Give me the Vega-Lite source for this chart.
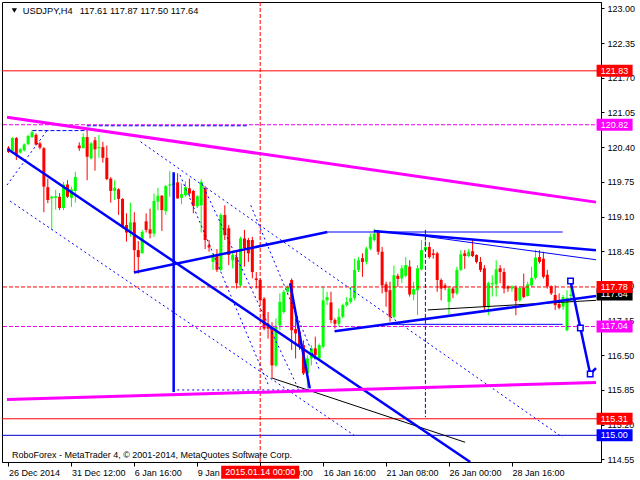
{
"$schema":"https://vega.github.io/schema/vega-lite/v6.json",
"width":599,"height":460,
"autosize":{"type":"none"},
"padding":{"left":2,"top":2,"right":39,"bottom":18},
"background":"white",
"config":{"view":{"stroke":"black","strokeWidth":1},"font":"Liberation Sans","axis":{"labelFont":"Liberation Sans","labelFontSize":9,"labelColor":"black","tickColor":"black","domainColor":"black","grid":false,"labelOverlap":false}},
"resolve":{"axis":{"x":"independent","y":"independent"}},
"datasets":{
"candles":[
{"i":0,"o":120.39,"h":120.42,"l":120.29,"c":120.31},
{"i":1,"o":120.33,"h":120.59,"l":120.33,"c":120.57},
{"i":2,"o":120.57,"h":120.59,"l":120.16,"c":120.26},
{"i":3,"o":120.30,"h":120.38,"l":120.28,"c":120.36},
{"i":4,"o":120.34,"h":120.47,"l":120.32,"c":120.45},
{"i":5,"o":120.46,"h":120.63,"l":120.44,"c":120.61},
{"i":6,"o":120.59,"h":120.72,"l":120.57,"c":120.68},
{"i":7,"o":120.63,"h":120.66,"l":120.43,"c":120.45},
{"i":8,"o":120.47,"h":120.50,"l":120.36,"c":120.39},
{"i":9,"o":120.38,"h":120.40,"l":119.18,"c":119.66},
{"i":10,"o":119.65,"h":119.81,"l":119.35,"c":119.41},
{"i":11,"o":119.44,"h":119.49,"l":118.85,"c":119.47},
{"i":12,"o":119.45,"h":119.60,"l":119.23,"c":119.48},
{"i":13,"o":119.47,"h":119.54,"l":119.22,"c":119.26},
{"i":14,"o":119.26,"h":119.75,"l":119.22,"c":119.70},
{"i":15,"o":119.70,"h":119.78,"l":119.45,"c":119.47},
{"i":16,"o":119.45,"h":119.66,"l":119.28,"c":119.61},
{"i":17,"o":119.58,"h":119.94,"l":119.36,"c":119.84},
{"i":18,"o":120.43,"h":120.49,"l":120.33,"c":120.38},
{"i":19,"o":120.38,"h":120.66,"l":120.38,"c":120.59},
{"i":20,"o":120.59,"h":120.72,"l":119.78,"c":120.22},
{"i":21,"o":120.19,"h":120.50,"l":120.17,"c":120.47},
{"i":22,"o":120.53,"h":120.59,"l":119.96,"c":120.36},
{"i":23,"o":120.38,"h":120.63,"l":120.20,"c":120.40},
{"i":24,"o":120.40,"h":120.50,"l":120.11,"c":120.20},
{"i":25,"o":120.20,"h":120.43,"l":119.78,"c":119.80},
{"i":26,"o":119.81,"h":119.84,"l":119.36,"c":119.58},
{"i":27,"o":119.58,"h":119.78,"l":119.41,"c":119.64},
{"i":28,"o":119.61,"h":119.63,"l":119.13,"c":119.43},
{"i":29,"o":119.43,"h":119.44,"l":118.88,"c":118.91},
{"i":30,"o":118.94,"h":119.16,"l":118.63,"c":118.80},
{"i":31,"o":118.80,"h":119.36,"l":118.72,"c":118.99},
{"i":32,"o":118.99,"h":119.18,"l":118.06,"c":118.47},
{"i":33,"o":118.47,"h":118.64,"l":118.03,"c":118.34},
{"i":34,"o":118.41,"h":118.85,"l":118.41,"c":118.81},
{"i":35,"o":119.01,"h":119.16,"l":118.80,"c":118.85},
{"i":36,"o":118.86,"h":119.25,"l":118.69,"c":118.78},
{"i":37,"o":118.78,"h":119.53,"l":118.72,"c":119.39},
{"i":38,"o":119.38,"h":119.64,"l":119.22,"c":119.49},
{"i":39,"o":119.49,"h":119.50,"l":118.83,"c":119.22},
{"i":40,"o":119.20,"h":119.69,"l":119.13,"c":119.67},
{"i":41,"o":119.68,"h":119.95,"l":119.47,"c":119.70},
{"i":42,"o":119.69,"h":119.75,"l":119.68,"c":119.73},
{"i":43,"o":119.74,"h":119.91,"l":119.43,"c":119.44},
{"i":44,"o":119.45,"h":119.72,"l":119.33,"c":119.52},
{"i":45,"o":119.50,"h":119.76,"l":119.47,"c":119.65},
{"i":46,"o":119.63,"h":119.81,"l":119.47,"c":119.53},
{"i":47,"o":119.58,"h":119.60,"l":119.16,"c":119.30},
{"i":48,"o":119.29,"h":119.50,"l":119.26,"c":119.48},
{"i":49,"o":119.31,"h":119.80,"l":118.80,"c":119.75},
{"i":50,"o":119.63,"h":119.67,"l":118.49,"c":118.66},
{"i":51,"o":118.56,"h":118.66,"l":118.44,"c":118.52},
{"i":52,"o":118.25,"h":118.41,"l":118.10,"c":118.38},
{"i":53,"o":118.38,"h":118.49,"l":118.06,"c":118.10},
{"i":54,"o":118.10,"h":119.16,"l":118.08,"c":119.13},
{"i":55,"o":119.13,"h":119.31,"l":118.66,"c":118.75},
{"i":56,"o":118.88,"h":118.94,"l":118.19,"c":118.38},
{"i":57,"o":118.28,"h":118.44,"l":118.13,"c":118.38},
{"i":58,"o":118.34,"h":118.44,"l":117.75,"c":117.85},
{"i":59,"o":117.81,"h":118.72,"l":117.78,"c":118.69},
{"i":60,"o":118.69,"h":118.85,"l":118.16,"c":118.51},
{"i":61,"o":118.66,"h":118.70,"l":118.25,"c":118.41},
{"i":62,"o":118.66,"h":118.72,"l":117.94,"c":118.06},
{"i":63,"o":117.94,"h":118.06,"l":117.75,"c":117.91},
{"i":64,"o":117.91,"h":117.94,"l":117.50,"c":117.53},
{"i":65,"o":117.56,"h":117.59,"l":116.97,"c":117.00},
{"i":66,"o":117.09,"h":117.31,"l":116.81,"c":117.00},
{"i":67,"o":117.01,"h":117.12,"l":116.06,"c":116.31},
{"i":68,"o":116.31,"h":117.19,"l":116.28,"c":117.03},
{"i":69,"o":117.06,"h":117.66,"l":116.97,"c":117.50},
{"i":70,"o":117.31,"h":117.72,"l":117.28,"c":117.69},
{"i":71,"o":117.69,"h":117.81,"l":117.66,"c":117.78},
{"i":72,"o":117.91,"h":117.94,"l":116.60,"c":116.97},
{"i":73,"o":116.99,"h":117.19,"l":116.44,"c":116.91},
{"i":74,"o":116.94,"h":117.00,"l":116.60,"c":116.69},
{"i":75,"o":116.69,"h":116.78,"l":116.13,"c":116.16},
{"i":76,"o":116.16,"h":116.50,"l":115.88,"c":116.44},
{"i":77,"o":116.44,"h":116.69,"l":116.31,"c":116.63},
{"i":78,"o":116.63,"h":116.85,"l":116.44,"c":116.50},
{"i":79,"o":116.44,"h":116.72,"l":116.41,"c":116.69},
{"i":80,"o":116.66,"h":117.78,"l":116.63,"c":117.53},
{"i":81,"o":117.53,"h":117.69,"l":117.44,"c":117.59},
{"i":82,"o":117.49,"h":117.69,"l":117.10,"c":117.16},
{"i":83,"o":117.16,"h":117.19,"l":117.00,"c":117.09},
{"i":84,"o":117.09,"h":117.38,"l":117.04,"c":117.22},
{"i":85,"o":117.22,"h":117.47,"l":117.19,"c":117.44},
{"i":86,"o":117.44,"h":117.59,"l":117.41,"c":117.50},
{"i":87,"o":117.50,"h":117.78,"l":117.47,"c":117.57},
{"i":88,"o":117.57,"h":118.31,"l":117.53,"c":118.10},
{"i":89,"o":118.10,"h":118.34,"l":118.06,"c":118.28},
{"i":90,"o":118.32,"h":118.41,"l":117.97,"c":118.25},
{"i":91,"o":118.25,"h":118.53,"l":118.20,"c":118.50},
{"i":92,"o":118.50,"h":118.78,"l":118.47,"c":118.72},
{"i":93,"o":118.66,"h":118.87,"l":118.63,"c":118.78},
{"i":94,"o":118.82,"h":118.85,"l":118.38,"c":118.44},
{"i":95,"o":118.44,"h":118.53,"l":117.66,"c":117.81},
{"i":96,"o":117.83,"h":117.88,"l":117.41,"c":117.69},
{"i":97,"o":117.72,"h":117.88,"l":117.13,"c":117.22},
{"i":98,"o":117.22,"h":118.18,"l":117.19,"c":118.00},
{"i":99,"o":117.99,"h":118.03,"l":117.78,"c":117.93},
{"i":100,"o":117.94,"h":118.19,"l":117.85,"c":118.13},
{"i":101,"o":117.99,"h":118.34,"l":117.96,"c":118.19},
{"i":102,"o":118.16,"h":118.28,"l":117.60,"c":117.64},
{"i":103,"o":117.64,"h":117.88,"l":117.53,"c":117.74},
{"i":104,"o":117.72,"h":118.19,"l":117.25,"c":118.13},
{"i":105,"o":118.11,"h":118.66,"l":118.09,"c":118.47},
{"i":106,"o":118.47,"h":118.80,"l":118.47,"c":118.53},
{"i":107,"o":118.53,"h":118.62,"l":118.31,"c":118.34},
{"i":108,"o":118.41,"h":118.49,"l":118.31,"c":118.38},
{"i":109,"o":118.41,"h":118.44,"l":117.69,"c":117.91},
{"i":110,"o":117.91,"h":117.94,"l":117.53,"c":117.75},
{"i":111,"o":117.81,"h":117.85,"l":117.72,"c":117.76},
{"i":112,"o":117.50,"h":117.80,"l":117.27,"c":117.75},
{"i":113,"o":117.75,"h":117.78,"l":117.57,"c":117.66},
{"i":114,"o":117.66,"h":118.16,"l":117.63,"c":118.10},
{"i":115,"o":118.10,"h":118.47,"l":118.08,"c":118.39},
{"i":116,"o":118.41,"h":118.47,"l":118.12,"c":118.36},
{"i":117,"o":118.36,"h":118.49,"l":118.34,"c":118.44},
{"i":118,"o":118.45,"h":118.66,"l":118.34,"c":118.36},
{"i":119,"o":118.38,"h":118.39,"l":118.22,"c":118.25},
{"i":120,"o":118.25,"h":118.34,"l":118.06,"c":118.10},
{"i":121,"o":118.13,"h":118.19,"l":117.35,"c":117.41},
{"i":122,"o":117.41,"h":117.88,"l":117.25,"c":117.85},
{"i":123,"o":117.83,"h":118.00,"l":117.60,"c":117.85},
{"i":124,"o":117.83,"h":118.28,"l":117.60,"c":118.11},
{"i":125,"o":118.13,"h":118.19,"l":117.85,"c":118.06},
{"i":126,"o":118.06,"h":118.13,"l":117.66,"c":117.75},
{"i":127,"o":117.79,"h":117.81,"l":117.69,"c":117.75},
{"i":128,"o":117.75,"h":117.81,"l":117.69,"c":117.79},
{"i":129,"o":117.77,"h":117.81,"l":117.25,"c":117.52},
{"i":130,"o":117.53,"h":117.78,"l":117.50,"c":117.76},
{"i":131,"o":117.77,"h":118.03,"l":117.57,"c":117.59},
{"i":132,"o":117.61,"h":117.88,"l":117.60,"c":117.83},
{"i":133,"o":117.81,"h":118.16,"l":117.78,"c":117.95},
{"i":134,"o":117.95,"h":118.48,"l":117.92,"c":118.33},
{"i":135,"o":118.34,"h":118.47,"l":118.22,"c":118.25},
{"i":136,"o":118.31,"h":118.44,"l":117.94,"c":117.97},
{"i":137,"o":118.01,"h":118.10,"l":117.75,"c":117.79},
{"i":138,"o":117.79,"h":117.81,"l":117.63,"c":117.66},
{"i":139,"o":117.63,"h":117.81,"l":117.35,"c":117.44},
{"i":140,"o":117.46,"h":117.66,"l":117.36,"c":117.39},
{"i":141,"o":117.41,"h":117.63,"l":117.35,"c":117.59},
{"i":142,"o":116.97,"h":117.72,"l":116.95,"c":117.57},
{"i":143,"o":117.61,"h":117.87,"l":117.50,"c":117.64}
],
"thickBlue":[
{"i1":-0.125,"p1":120.36,"i2":117.4,"p2":114.5},
{"i1":31.9,"p1":118.05,"i2":81.1,"p2":118.81},
{"i1":92.9,"p1":118.83,"i2":149.375,"p2":118.47},
{"i1":82.9,"p1":116.95,"i2":149.375,"p2":117.61},
{"i1":71.6,"p1":117.85,"i2":76.6,"p2":115.88},
{"i1":42,"p1":119.93,"i2":42,"p2":115.81}
],
"thinBlue":[
{"i1":81.1,"p1":118.81,"i2":140.9,"p2":118.81},
{"i1":105.9,"p1":118.73,"i2":149.375,"p2":118.29},
{"i1":95.9,"p1":117.08,"i2":140.9,"p2":117.08}
],
"blackThin":[
{"i1":106.6,"p1":117.35,"i2":149.375,"p2":117.53},
{"i1":67.1,"p1":116.07,"i2":116.1,"p2":114.87}
],
"dotted":[
{"i1":-0.375,"p1":119.69,"i2":9.9,"p2":120.72},
{"i1":0.4,"p1":119.39,"i2":87.9,"p2":115.0},
{"i1":33.6,"p1":120.5,"i2":140.9,"p2":114.96},
{"i1":43.6,"p1":119.88,"i2":66.1,"p2":115.94},
{"i1":49.1,"p1":119.73,"i2":74.1,"p2":115.81},
{"i1":61.6,"p1":119.31,"i2":79.1,"p2":116.22},
{"i1":42.9,"p1":115.85,"i2":76.6,"p2":115.85}
],
"dashedBlue":[
{"i1":6.1,"p1":120.71,"i2":19.9,"p2":120.71},
{"i1":19.9,"p1":120.8,"i2":61.1,"p2":120.8},
{"i1":106,"p1":118.85,"i2":106,"p2":115.34}
],
"magentaThick":[
{"i1":-0.375,"p1":120.96,"i2":149.375,"p2":119.37},
{"i1":-0.375,"p1":115.67,"i2":149.375,"p2":115.99}
],
"zig":[
{"i":142.9,"p":117.89,"m":1},
{"i":145.4,"p":117.01,"m":1},
{"i":147.9,"p":116.15,"m":1},
{"i":149.375,"p":116.26,"m":0}
],
"priceLabels":[
{"p":121.83,"t":"121.83","k":"red"},
{"p":120.82,"t":"120.82","k":"magenta"},
{"p":117.04,"t":"117.04","k":"magenta"},
{"p":115.31,"t":"115.31","k":"red"},
{"p":115.0,"t":"115.00","k":"blue"}
]
},
"layer":[
{"data":{"name":"candles"},
 "mark":{"type":"rule","strokeWidth":1},
 "encoding":{
  "x":{"field":"i","type":"quantitative","scale":{"domain":[-0.375,149.375],"nice":false,"zero":false},
   "axis":{"orient":"bottom","title":null,"values":[0,16,32,48,64,80,96,112,128],"labelAlign":"left","labelPadding":2,"tickSize":4,"labelFlush":false,
    "labelExpr":"datum.value==0?'26 Dec 2014':datum.value==16?'31 Dec 12:00':datum.value==32?'6 Jan 16:00':datum.value==48?'9 Jan 08:00':datum.value==64?'14 Jan 00:00':datum.value==80?'16 Jan 16:00':datum.value==96?'21 Jan 08:00':datum.value==112?'26 Jan 00:00':'28 Jan 16:00'"}},
  "y":{"field":"l","type":"quantitative","scale":{"domain":[114.5,123.12],"nice":false,"zero":false},
   "axis":{"orient":"right","title":null,"values":[123.0,122.35,121.7,121.05,120.4,119.75,119.1,118.45,117.8,117.15,116.5,115.85,115.2,114.55],"format":".2f","tickSize":3,"labelPadding":3,"labelFlush":false}},
  "y2":{"field":"h"},
  "color":{"condition":{"test":"datum.c >= datum.o","value":"#00FF00"},"value":"#FF0000"}
 }},
{"data":{"name":"candles"},
 "mark":{"type":"bar","size":3},
 "encoding":{
  "x":{"field":"i","type":"quantitative","axis":null},
  "y":{"field":"o","type":"quantitative","axis":null},
  "y2":{"field":"c"},
  "color":{"condition":{"test":"datum.c >= datum.o","value":"#00FF00"},"value":"#FF0000"}
 }},
{"data":{"values":[{"p":121.83},{"p":115.31}]},
 "mark":{"type":"rule","color":"#FF0000","strokeWidth":1},
 "encoding":{"y":{"field":"p","type":"quantitative","axis":null}}},
{"data":{"values":[{"p":115.0}]},
 "mark":{"type":"rule","color":"#0000CD","strokeWidth":1},
 "encoding":{"y":{"field":"p","type":"quantitative","axis":null}}},
{"data":{"values":[{"p":120.82},{"p":117.04}]},
 "mark":{"type":"rule","color":"#EE00EE","strokeWidth":1,"strokeDash":[4,2]},
 "encoding":{"y":{"field":"p","type":"quantitative","axis":null}}},
{"data":{"values":[{"p":117.78}]},
 "mark":{"type":"rule","color":"#FF0000","strokeWidth":1,"strokeDash":[4,2]},
 "encoding":{"y":{"field":"p","type":"quantitative","axis":null}}},
{"data":{"values":[{"i":64}]},
 "mark":{"type":"rule","color":"#FF0000","strokeWidth":1,"strokeDash":[4,2]},
 "encoding":{"x":{"field":"i","type":"quantitative","axis":null}}},
{"data":{"name":"dotted"},
 "mark":{"type":"rule","color":"#0000FF","strokeWidth":1,"strokeDash":[2,3],"clip":true},
 "encoding":{"x":{"field":"i1","type":"quantitative","axis":null},"y":{"field":"p1","type":"quantitative","axis":null},"x2":{"field":"i2"},"y2":{"field":"p2"}}},
{"data":{"name":"dashedBlue"},
 "mark":{"type":"rule","color":"#0000FF","strokeWidth":1,"strokeDash":[4,2],"clip":true},
 "encoding":{"x":{"field":"i1","type":"quantitative","axis":null},"y":{"field":"p1","type":"quantitative","axis":null},"x2":{"field":"i2"},"y2":{"field":"p2"}}},
{"data":{"name":"thinBlue"},
 "mark":{"type":"rule","color":"#0000FF","strokeWidth":1,"clip":true},
 "encoding":{"x":{"field":"i1","type":"quantitative","axis":null},"y":{"field":"p1","type":"quantitative","axis":null},"x2":{"field":"i2"},"y2":{"field":"p2"}}},
{"data":{"name":"blackThin"},
 "mark":{"type":"rule","color":"#000000","strokeWidth":1,"clip":true},
 "encoding":{"x":{"field":"i1","type":"quantitative","axis":null},"y":{"field":"p1","type":"quantitative","axis":null},"x2":{"field":"i2"},"y2":{"field":"p2"}}},
{"data":{"name":"thickBlue"},
 "mark":{"type":"rule","color":"#0000FF","strokeWidth":2.5,"clip":true},
 "encoding":{"x":{"field":"i1","type":"quantitative","axis":null},"y":{"field":"p1","type":"quantitative","axis":null},"x2":{"field":"i2"},"y2":{"field":"p2"}}},
{"data":{"name":"magentaThick"},
 "mark":{"type":"rule","color":"#FF00FF","strokeWidth":3,"clip":true},
 "encoding":{"x":{"field":"i1","type":"quantitative","axis":null},"y":{"field":"p1","type":"quantitative","axis":null},"x2":{"field":"i2"},"y2":{"field":"p2"}}},
{"data":{"name":"zig"},
 "mark":{"type":"line","color":"#0000FF","strokeWidth":2.5,"clip":true},
 "encoding":{"x":{"field":"i","type":"quantitative","axis":null},"y":{"field":"p","type":"quantitative","axis":null}}},
{"data":{"name":"zig"},
 "transform":[{"filter":"datum.m == 1"}],
 "mark":{"type":"point","shape":"square","filled":true,"color":"white","size":30,"opacity":1},
 "encoding":{"x":{"field":"i","type":"quantitative","axis":null},"y":{"field":"p","type":"quantitative","axis":null}}},
{"data":{"name":"zig"},
 "transform":[{"filter":"datum.m == 1"}],
 "mark":{"type":"point","shape":"square","filled":false,"color":"#0000FF","strokeWidth":1.5,"size":30,"opacity":1},
 "encoding":{"x":{"field":"i","type":"quantitative","axis":null},"y":{"field":"p","type":"quantitative","axis":null}}},
{"data":{"values":[{"p":117.64,"t":"117.64"}]},
 "mark":{"type":"point","shape":"M-1,-0.3333H1V0.3333H-1Z","filled":true,"color":"#000000","size":1296,"opacity":1,"strokeWidth":0},
 "encoding":{"x":{"datum":154.1,"type":"quantitative","axis":null},"y":{"field":"p","type":"quantitative","axis":null}}},
{"data":{"values":[{"p":117.64,"t":"117.64"}]},
 "mark":{"type":"text","align":"left","baseline":"middle","color":"white","fontSize":9,"font":"Liberation Sans"},
 "encoding":{"x":{"datum":150.6,"type":"quantitative","axis":null},"y":{"field":"p","type":"quantitative","axis":null},"text":{"field":"t"}}},
{"data":{"values":[{"p":117.78,"t":"117.78"}]},
 "mark":{"type":"point","shape":"M-1,-0.3333H1V0.3333H-1Z","filled":true,"color":"#FF0000","size":1296,"opacity":1,"strokeWidth":0},
 "encoding":{"x":{"datum":154.1,"type":"quantitative","axis":null},"y":{"field":"p","type":"quantitative","axis":null}}},
{"data":{"values":[{"p":117.78,"t":"117.78"}]},
 "mark":{"type":"text","align":"left","baseline":"middle","color":"white","fontSize":9,"font":"Liberation Sans"},
 "encoding":{"x":{"datum":150.6,"type":"quantitative","axis":null},"y":{"field":"p","type":"quantitative","axis":null},"text":{"field":"t"}}},
{"data":{"name":"priceLabels"},
 "mark":{"type":"point","shape":"M-1,-0.3333H1V0.3333H-1Z","filled":true,"size":1296,"opacity":1,"strokeWidth":0},
 "encoding":{"x":{"datum":154.1,"type":"quantitative","axis":null},"y":{"field":"p","type":"quantitative","axis":null},
  "color":{"field":"k","type":"nominal","scale":{"domain":["red","magenta","blue"],"range":["#FF0000","#FF00FF","#0000FF"]},"legend":null}}},
{"data":{"name":"priceLabels"},
 "mark":{"type":"text","align":"left","baseline":"middle","color":"white","fontSize":9,"font":"Liberation Sans"},
 "encoding":{"x":{"datum":150.6,"type":"quantitative","axis":null},"y":{"field":"p","type":"quantitative","axis":null},"text":{"field":"t"}}},
{"data":{"values":[{"i":64,"t":"2015.01.14 00:00"}]},
 "mark":{"type":"point","shape":"M-1,-0.1667H1V0.1667H-1Z","filled":true,"color":"#FF0000","size":6084,"opacity":1,"strokeWidth":0},
 "encoding":{"x":{"field":"i","type":"quantitative","axis":null},"y":{"datum":114.31,"type":"quantitative","axis":null}}},
{"data":{"values":[{"i":64,"t":"2015.01.14 00:00"}]},
 "mark":{"type":"text","align":"center","baseline":"middle","color":"white","fontSize":9,"font":"Liberation Sans"},
 "encoding":{"x":{"field":"i","type":"quantitative","axis":null},"y":{"datum":114.31,"type":"quantitative","axis":null},"text":{"field":"t"}}},
{"data":{"values":[{"t":"▼"}]},
 "mark":{"type":"point","shape":"triangle-down","filled":true,"color":"black","size":28,"opacity":1},
 "encoding":{"x":{"datum":1.5,"type":"quantitative","axis":null},"y":{"datum":122.96,"type":"quantitative","axis":null}}},
{"data":{"values":[{"t":"USDJPY,H4"}]},
 "mark":{"type":"text","align":"left","baseline":"middle","color":"black","fontSize":9.3,"font":"Liberation Sans"},
 "encoding":{"x":{"datum":3.625,"type":"quantitative","axis":null},"y":{"datum":122.95,"type":"quantitative","axis":null},"text":{"field":"t"}}},
{"data":{"values":[{"t":"117.61 117.87 117.50 117.64"}]},
 "mark":{"type":"text","align":"left","baseline":"middle","color":"black","fontSize":9.3,"font":"Liberation Sans"},
 "encoding":{"x":{"datum":18.1,"type":"quantitative","axis":null},"y":{"datum":122.95,"type":"quantitative","axis":null},"text":{"field":"t"}}},
{"data":{"values":[{"t":"RoboForex - MetaTrader 4, © 2001-2014, MetaQuotes Software Corp."}]},
 "mark":{"type":"text","align":"left","baseline":"middle","color":"black","fontSize":9,"font":"Liberation Sans"},
 "encoding":{"x":{"datum":0.9,"type":"quantitative","axis":null},"y":{"datum":114.63,"type":"quantitative","axis":null},"text":{"field":"t"}}}
]
}
